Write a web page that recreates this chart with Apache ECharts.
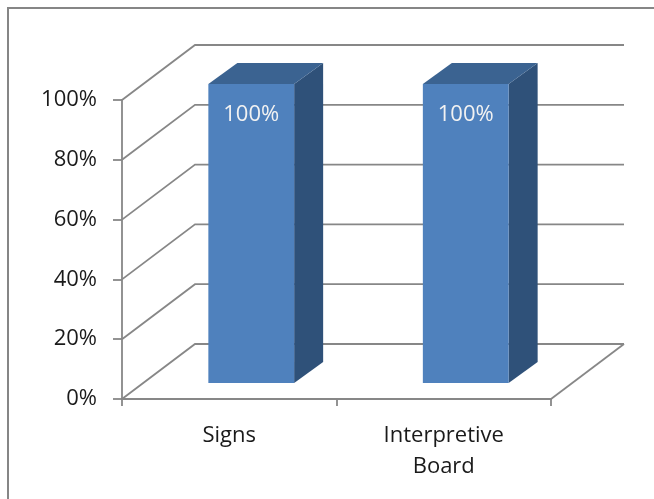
<!DOCTYPE html>
<html>
<head>
<meta charset="utf-8">
<script src="https://cdn.jsdelivr.net/npm/echarts@6/dist/echarts.min.js"></script>
<style>
  html, body { margin: 0; padding: 0; background: #ffffff; }
  #chart { width: 654px; height: 499px; }
</style>
</head>
<body>
<div id="chart"></div>
<script>
// Categories and their shares (fraction of 1)
const categories = ['Signs', 'Interpretive\nBoard'];
const shares = [1.0, 1.0];
// Value-axis ticks
const yTicks = [0, 0.2, 0.4, 0.6, 0.8, 1.0];

// Pseudo-3D geometry (pixels)
const DEPTH = [73, -55];        // floor/back-wall depth offset
const BAR_FRONT = [22, -16];    // bar front face offset from axis plane
const BAR_DEPTH = [29, -21];    // bar thickness along depth
const BAR_RATIO = 0.40;         // bar width as share of category band

const FONT = '"Open Sans", "Liberation Sans", sans-serif';
const GRID_COLOR = '#878787';

function pct(v) { return Math.round(v * 100) + '%'; }

// Floor and back wall with its grid lines
function renderWalls(params, api) {
  const cs = params.coordSys;
  const x0 = cs.x, x1 = cs.x + cs.width;
  const children = [];
  const style = { stroke: GRID_COLOR, lineWidth: 1.8, fill: null };
  yTicks.forEach(function (v) {
    const y = api.coord([0, v])[1];
    children.push({
      type: 'polyline',
      shape: { points: [[x0, y], [x0 + DEPTH[0], y + DEPTH[1]], [x1 + DEPTH[0], y + DEPTH[1]]] },
      style: style
    });
  });
  const yb = api.coord([0, yTicks[0]])[1];
  children.push({
    type: 'line',
    shape: { x1: x1, y1: yb, x2: x1 + DEPTH[0], y2: yb + DEPTH[1] },
    style: style
  });
  return { type: 'group', children: children };
}

// One box-shaped bar: front, side and top faces plus the value label
function renderBar(params, api) {
  const idx = api.value(0);
  const val = api.value(1);
  const base = api.coord([idx, 0]);
  const top = api.coord([idx, val]);
  const w = api.size([1, 0])[0] * BAR_RATIO;
  const lx = base[0] + BAR_FRONT[0] - w / 2;
  const rx = lx + w;
  const by = base[1] + BAR_FRONT[1];
  const ty = top[1] + BAR_FRONT[1];
  const dx = BAR_DEPTH[0], dy = BAR_DEPTH[1];
  return {
    type: 'group',
    children: [
      {
        type: 'polygon',
        shape: { points: [[rx, by], [rx + dx, by + dy], [rx + dx, ty + dy], [rx, ty]] },
        style: { fill: '#2f5179' }
      },
      {
        type: 'polygon',
        shape: { points: [[lx, ty], [lx + dx, ty + dy], [rx + dx, ty + dy], [rx, ty]] },
        style: { fill: '#3b6391' }
      },
      {
        type: 'rect',
        shape: { x: lx, y: ty, width: w, height: by - ty },
        style: { fill: '#4f81bd' }
      },
      {
        type: 'text',
        x: (lx + rx) / 2,
        y: ty + 31,
        style: {
          text: pct(val),
          fill: '#f2f2f2',
          font: '22px ' + FONT,
          align: 'center',
          verticalAlign: 'middle'
        }
      }
    ]
  };
}

const chart = echarts.init(document.getElementById('chart'), null, { renderer: 'canvas' });
chart.setOption({
  animation: false,
  backgroundColor: '#ffffff',
  graphic: [{
    type: 'rect',
    shape: { x: 8, y: 8, width: 700, height: 600 },
    style: { fill: null, stroke: '#868686', lineWidth: 2 },
    z: -10
  }],
  grid: { left: 122, right: 103, top: 100, bottom: 100, containLabel: false },
  xAxis: {
    type: 'category',
    data: categories,
    boundaryGap: true,
    axisLine: { lineStyle: { color: GRID_COLOR, width: 1.8 } },
    axisTick: { show: true, length: 7, lineStyle: { color: GRID_COLOR, width: 1.8 } },
    axisLabel: {
      color: '#1a1a1a',
      fontFamily: FONT,
      fontSize: 22,
      lineHeight: 31,
      margin: 21
    },
    splitLine: { show: false }
  },
  yAxis: {
    type: 'value',
    min: 0,
    max: 1,
    interval: 0.2,
    axisLine: { show: true, lineStyle: { color: GRID_COLOR, width: 1.8 } },
    axisTick: { show: true, length: 9, lineStyle: { color: GRID_COLOR, width: 1.8 } },
    axisLabel: {
      color: '#1a1a1a',
      fontFamily: FONT,
      fontSize: 22,
      margin: 25,
      formatter: pct
    },
    splitLine: { show: false }
  },
  series: [
    {
      type: 'custom',
      name: 'walls',
      renderItem: renderWalls,
      data: [[0, 0]],
      silent: true,
      z: 1
    },
    {
      type: 'custom',
      name: 'share',
      renderItem: renderBar,
      data: categories.map(function (c, i) { return [i, shares[i]]; }),
      encode: { x: 0, y: 1 },
      z: 2
    }
  ]
});
</script>
</body>
</html>
